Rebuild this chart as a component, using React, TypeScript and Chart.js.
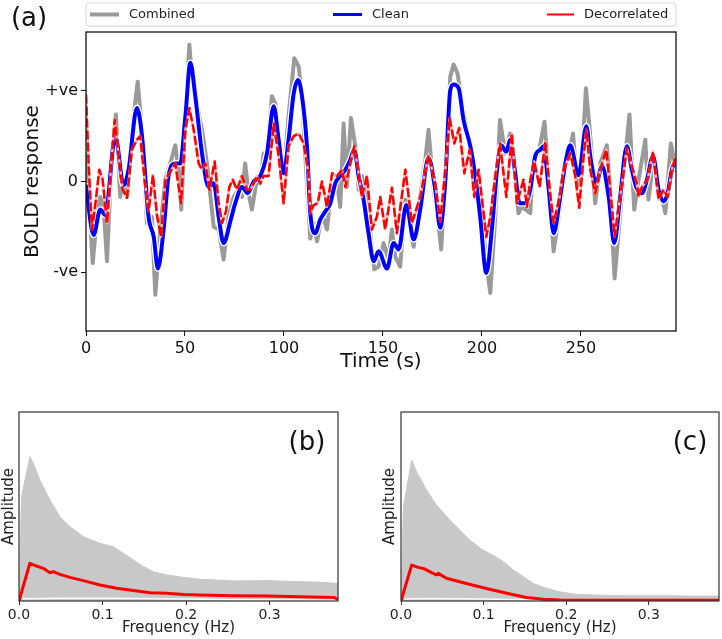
import React, { useEffect, useRef } from "react";
import { Chart, registerables } from "chart.js";

Chart.register(...registerables);

const FONT = "'DejaVu Sans', sans-serif";

// ---------- Panel (a): BOLD time series ----------
const combinedTime = [
  0, 3.4, 5.5, 7.2, 8.9, 10.6, 12.8, 15.1, 17.3, 19.0,
  20.7, 23.2, 26.1, 28.3, 30.8, 33.3, 35.0, 37.5, 40.1, 42.6,
  45.1, 46.8, 48.1, 50.2, 52.2, 53.9, 56.1, 58.6, 61.1, 64.5,
  67.0, 69.5, 72.0, 74.6, 77.1, 78.8, 80.4, 82.1, 83.8, 86.3,
  88.0, 89.7, 91.4, 93.9, 95.6, 98.1, 99.8, 102.3, 105.2, 107.4,
  109.1, 110.8, 113.3, 115.0, 116.7, 119.2, 121.7, 123.4, 126.8, 128.4,
  130.1, 131.8, 133.8, 136.0, 137.7, 139.3, 141.9, 143.6, 145.6, 147.8,
  150.3, 152.8, 154.5, 156.2, 158.7, 161.3, 162.9, 165.5, 168.8, 171.4,
  173.0, 175.6, 177.6, 179.4, 181.5, 184.0, 185.7, 187.7, 189.9, 192.4,
  195.0, 197.5, 200.0, 202.2, 204.2, 206.7, 209.1, 211.7, 214.2, 216.8,
  218.4, 220.1, 224.4, 226.1, 228.6, 231.6, 233.6, 236.2, 238.7, 242.1,
  246.0, 248.0, 250.0, 252.5, 254.7, 257.2, 259.7, 263.1, 264.8, 267.0,
  269.8, 272.0, 274.5, 276.9, 279.1, 282.5, 284.1, 286.4, 288.4, 290.9,
  292.6, 295.4, 298,
];
const combinedValue = [
  0.3, -0.90, -0.39, -0.17, -0.28, -0.88, 0.20, 0.74, -0.17, 0.06,
  -0.17, 0.57, 1.10, 0.57, -0.46, -0.39, -1.25, -0.53, 0.02, 0.20,
  0.40, 0.13, -0.31, 0.75, 1.51, 1.05, 0.83, 0.57, 0.20, -0.50,
  -0.53, -0.86, -0.39, -0.17, -0.09, -0.17, 0.20, -0.13, -0.31, 0.02,
  -0.02, 0.31, 0.28, 0.94, 0.86, 0.20, 0.09, 0.72, 1.36, 1.27,
  0.94, 0.28, -0.63, -0.46, -0.66, -0.35, -0.53, -0.17, -0.02, -0.28,
  0.64, -0.06, 0.70, 0.39, -0.09, 0.06, -0.24, -0.57, -0.97, -0.94,
  -0.68, -0.86, -0.53, -0.83, -0.94, -0.20, -0.42, -0.72, -0.17, 0.24,
  0.57, -0.09, -0.39, -0.75, 0.09, 1.16, 1.29, 1.19, 0.86, 0.57,
  0.28, -0.06, -0.39, -0.90, -1.23, -0.39, 0.68, 0.31, 0.53, 0.09,
  -0.35, -0.28, -0.35, 0.28, 0.31, 0.66, 0.02, -0.77, -0.39, 0.13,
  0.53, -0.06, 0.02, 1.03, 0.50, -0.24, 0.20, 0.40, -0.17, -1.07,
  -0.35, 0.20, 0.74, -0.31, 0.02, 0.46, -0.20, 0.20, -0.02, -0.17,
  -0.35, 0.42, 0.13,
];

const cleanTime = [
  0, 3.85, 7.2, 9.7, 14.8, 19.0, 21.5, 25.7, 28.3, 31.6,
  34.2, 36.3, 39.2, 41.7, 45.1, 47.6, 50.2, 52.7, 55.2, 58.6,
  61.9, 64.5, 67.0, 69.5, 72.9, 75.4, 78.8, 81.6, 84.7, 88.0,
  91.4, 94.8, 97.3, 99.8, 102.3, 104.9, 107.1, 109.1, 111.6, 113.3,
  115.8, 118.3, 120.9, 123.4, 125.9, 128.4, 131.0, 133.5, 135.5, 137.7,
  140.2, 142.7, 145.3, 147.8, 152.0, 155.4, 157.9, 161.8, 165.5, 168.8,
  173.0, 176.4, 178.9, 181.5, 184.0, 185.7, 188.2, 190.7, 194.1, 196.6,
  199.1, 202.2, 205.0, 207.6, 209.6, 212.3, 214.3, 216.8, 219.0, 221.9,
  224.4, 226.9, 229.4, 231.1, 233.6, 236.2, 239.5, 242.1, 244.6, 248.8,
  252.7, 254.7, 257.7, 260.6, 264.0, 266.8, 269.8, 273.2, 275.7, 277.9,
  280.8, 283.3, 286.4, 289.2, 291.7, 293.8, 295.9, 298,
];
const cleanValue = [
  -0.05, -0.59, -0.31, -0.37, 0.50, -0.04, 0.13, 0.81, 0.50, -0.39,
  -0.61, -0.96, -0.53, 0.06, 0.20, 0.20, 0.72, 1.31, 0.94, 0.31,
  -0.06, -0.02, -0.39, -0.68, -0.44, -0.24, -0.06, -0.13, 0.00, 0.06,
  0.31, 0.83, 0.46, 0.09, 0.46, 0.97, 1.12, 0.94, 0.39, -0.35,
  -0.57, -0.42, -0.33, -0.24, -0.02, 0.06, 0.13, 0.24, 0.35, 0.06,
  -0.20, -0.57, -0.88, -0.77, -0.96, -0.68, -0.75, -0.26, -0.64, -0.31,
  0.26, -0.09, -0.51, 0.02, 1.01, 1.07, 1.03, 0.68, 0.39, 0.06,
  -0.39, -1.01, -0.53, 0.13, 0.40, 0.33, 0.46, 0.09, -0.24, -0.24,
  -0.09, 0.28, 0.35, 0.39, -0.06, -0.57, -0.17, 0.20, 0.40, 0.07,
  0.61, 0.28, -0.02, 0.17, -0.17, -0.68, -0.17, 0.39, 0.13, -0.06,
  -0.13, 0.02, 0.28, -0.09, -0.22, -0.13, 0.13, 0.22,
];

const decorrTime = [
  0, 1.3, 3.0, 5.0, 6.7, 8.4, 10.6, 12.8, 14.5, 16.5,
  18.5, 20.7, 23.2, 25.7, 27.4, 29.6, 31.6, 33.8, 35.8, 37.9,
  40.1, 42.6, 45.1, 48.0, 50.2, 52.2, 54.4, 56.9, 58.6, 60.3,
  62.3, 65.0, 67.0, 68.7, 70.7, 72.4, 74.1, 76.2, 78.8, 81.3,
  83.0, 84.7, 86.3, 88.0, 89.7, 92.2, 94.8, 97.3, 99.8, 102.3,
  104.9, 107.4, 109.9, 112.4, 113.3, 115.0, 117.0, 119.2, 121.7, 124.3,
  126.8, 129.3, 131.0, 133.5, 135.5, 137.7, 139.3, 141.9, 144.4, 146.9,
  148.6, 151.1, 154.5, 157.0, 161.3, 164.6, 168.8, 173.0, 176.4, 178.9,
  181.5, 183.7, 186.0, 188.5, 191.1, 193.8, 196.1, 198.3, 202.2, 204.2,
  206.7, 209.1, 212.3, 215.1, 217.6, 221.0, 222.7, 224.4, 226.4, 229.1,
  232.0, 234.2, 236.2, 239.2, 241.2, 244.6, 247.1, 249.1, 251.0, 252.7,
  254.7, 257.2, 259.7, 262.8, 264.8, 267.0, 269.8, 273.2, 275.7, 278.2,
  279.1, 280.8, 283.6, 286.4, 289.2, 291.7, 293.8, 295.9, 297.6,
];
const decorrValue = [
  0.96, 0.20, -0.53, -0.20, 0.13, 0.02, -0.46, 0.20, 0.68, 0.28,
  -0.09, -0.18, 0.35, 0.46, 0.50, 0.02, -0.33, 0.07, -0.37, -0.61,
  0.02, 0.11, 0.20, -0.24, 0.57, 0.81, 0.57, 0.20, 0.13, 0.20,
  -0.09, 0.22, -0.24, -0.46, -0.33, -0.06, 0.02, -0.09, 0.06, -0.09,
  -0.09, -0.02, 0.06, -0.02, 0.06, 0.06, 0.64, 0.28, -0.24, 0.39,
  0.50, 0.53, 0.42, 0.09, -0.35, -0.26, -0.24, 0.00, -0.28, 0.09,
  0.06, 0.13, -0.06, 0.20, 0.39, 0.09, -0.17, 0.06, -0.53, -0.39,
  -0.17, -0.53, -0.07, -0.57, 0.13, -0.46, -0.17, 0.29, -0.02, -0.44,
  0.13, 0.70, 0.42, 0.59, 0.09, 0.35, -0.17, 0.13, -0.61, -0.39,
  0.06, 0.42, -0.17, 0.53, -0.24, 0.02, -0.28, 0.02, 0.22, -0.06,
  0.44, -0.09, -0.46, -0.17, 0.13, 0.31, 0.06, -0.29, 0.20, 0.57,
  0.13, -0.13, 0.13, 0.35, -0.09, -0.61, -0.17, 0.37, 0.17, -0.02,
  -0.17, -0.06, 0.02, 0.33, -0.20, -0.09, -0.17, 0.13, 0.26,
];

const timeTicks = [0, 50, 100, 150, 200, 250];
const boldTickValues = [-1, 0, 1];
const boldTickLabels = ["-ve", "0", "+ve"];

// ---------- Panels (b), (c): spectra ----------
const freqTicks = [0, 0.1, 0.2, 0.3];

const grayBFreq = [0, 0.003, 0.013, 0.017, 0.025, 0.037, 0.049, 0.061, 0.077, 0.097, 0.113, 0.125, 0.137, 0.149, 0.161, 0.177, 0.197, 0.217, 0.237, 0.257, 0.277, 0.297, 0.317, 0.337, 0.357, 0.382];
const grayBAmp = [0, 0.55, 0.764, 0.73, 0.64, 0.534, 0.446, 0.393, 0.34, 0.305, 0.287, 0.252, 0.217, 0.182, 0.155, 0.138, 0.125, 0.115, 0.111, 0.106, 0.107, 0.108, 0.105, 0.102, 0.1, 0.093];
const redBFreq = [0, 0.013, 0.021, 0.029, 0.037, 0.041, 0.049, 0.061, 0.077, 0.097, 0.117, 0.137, 0.157, 0.177, 0.197, 0.217, 0.257, 0.297, 0.337, 0.377, 0.382];
const redBAmp = [0, 0.199, 0.185, 0.173, 0.15, 0.155, 0.141, 0.125, 0.108, 0.085, 0.067, 0.055, 0.044, 0.041, 0.035, 0.032, 0.028, 0.026, 0.023, 0.019, 0.009];
const whiteBFreq = [0.004, 0.05, 0.1, 0.15, 0.2, 0.25, 0.382];
const whiteBAmp = [0.012, 0.014, 0.014, 0.013, 0.01, 0.006, 0.004];

const grayCFreq = [0, 0.003, 0.0129, 0.0189, 0.031, 0.043, 0.059, 0.071, 0.083, 0.099, 0.111, 0.124, 0.136, 0.148, 0.16, 0.176, 0.192, 0.212, 0.232, 0.272, 0.313, 0.353, 0.385];
const grayCAmp = [0, 0.5, 0.746, 0.684, 0.587, 0.508, 0.429, 0.376, 0.323, 0.27, 0.243, 0.208, 0.164, 0.129, 0.093, 0.067, 0.049, 0.035, 0.032, 0.028, 0.028, 0.026, 0.026];
const redCFreq = [0, 0.0129, 0.021, 0.029, 0.037, 0.043, 0.045, 0.055, 0.071, 0.091, 0.111, 0.132, 0.152, 0.172, 0.192, 0.232, 0.385];
const redCAmp = [0, 0.19, 0.178, 0.169, 0.15, 0.138, 0.146, 0.12, 0.102, 0.079, 0.058, 0.037, 0.019, 0.009, 0.005, 0.004, 0.004];
const whiteCFreq = [0.004, 0.03, 0.06, 0.1, 0.15, 0.2];
const whiteCAmp = [0.01, 0.013, 0.012, 0.01, 0.006, 0.003];

function pts(xs: number[], ys: number[]) {
  return xs.map((x, i) => ({ x, y: ys[i] }));
}

const framePlugin = {
  id: "frame",
  afterDatasetsDraw(chart: any, _a: any, opts: any) {
    const { ctx, chartArea: a } = chart;
    ctx.save();
    ctx.strokeStyle = opts.color || "#000";
    ctx.lineWidth = opts.width || 1.2;
    ctx.strokeRect(a.left, a.top, a.right - a.left, a.bottom - a.top);
    ctx.restore();
  },
};

const panelLabelPlugin = {
  id: "panelLabel",
  afterDraw(chart: any, _a: any, opts: any) {
    if (!opts || !opts.text) return;
    const { ctx } = chart;
    ctx.save();
    ctx.font = `${opts.size}px ${FONT}`;
    ctx.fillStyle = "#111";
    ctx.textAlign = "center";
    ctx.textBaseline = "middle";
    ctx.fillText(opts.text, opts.x, opts.y);
    ctx.restore();
  },
};

const seriesLegendPlugin = {
  id: "seriesLegend",
  afterDraw(chart: any, _a: any, opts: any) {
    if (!opts || !opts.items) return;
    const { ctx, chartArea: a } = chart;
    ctx.save();
    const y0 = opts.top;
    const y1 = opts.bottom;
    ctx.beginPath();
    ctx.roundRect(a.left, y0, a.right - a.left, y1 - y0, 3);
    ctx.fillStyle = "rgba(255,255,255,0.9)";
    ctx.fill();
    ctx.strokeStyle = "#d6d6d6";
    ctx.lineWidth = 1;
    ctx.stroke();
    const cy = (y0 + y1) / 2;
    ctx.font = `13px ${FONT}`;
    ctx.textBaseline = "middle";
    ctx.textAlign = "left";
    for (const it of opts.items) {
      ctx.beginPath();
      ctx.moveTo(it.lx0, cy);
      ctx.lineTo(it.lx1, cy);
      ctx.strokeStyle = it.color;
      ctx.lineWidth = it.width;
      ctx.stroke();
      ctx.fillStyle = "#222";
      ctx.fillText(it.label, it.tx, cy + 0.5);
    }
    ctx.restore();
  },
};

function topConfig(): any {
  const line = { pointRadius: 0, fill: false, borderJoinStyle: "round", borderCapStyle: "round" };
  return {
    type: "line",
    data: {
      datasets: [
        { ...line, label: "Combined", data: pts(combinedTime, combinedValue), borderColor: "#9a9a9a", borderWidth: 4, order: 5 },
        { ...line, label: "clean-outline", data: pts(cleanTime, cleanValue), borderColor: "#ffffff", borderWidth: 6.5, cubicInterpolationMode: "monotone", order: 4 },
        { ...line, label: "Clean", data: pts(cleanTime, cleanValue), borderColor: "#0000ff", borderWidth: 4, cubicInterpolationMode: "monotone", order: 3 },
        { ...line, label: "decorr-under", data: pts(decorrTime, decorrValue), borderColor: "rgb(255,175,175)", borderWidth: 2.5, order: 2 },
        { ...line, label: "Decorrelated", data: pts(decorrTime, decorrValue), borderColor: "#ff0000", borderWidth: 2.5, borderDash: [9, 3], borderCapStyle: "butt", order: 1 },
      ],
    },
    options: {
      animation: false,
      responsive: false,
      maintainAspectRatio: false,
      layout: { padding: { left: 0, top: 32, right: 46, bottom: 0 } },
      plugins: {
        legend: { display: false },
        tooltip: { enabled: false },
        frame: { color: "#111", width: 1.3 },
        panelLabel: { text: "(a)", x: 29, y: 19, size: 26 },
        seriesLegend: {
          top: 3,
          bottom: 26,
          items: [
            { label: "Combined", color: "#9a9a9a", width: 4, lx0: 90, lx1: 119, tx: 129 },
            { label: "Clean", color: "#0000ff", width: 3, lx0: 333, lx1: 362, tx: 372 },
            { label: "Decorrelated", color: "#ff0000", width: 2, lx0: 547, lx1: 574, tx: 584 },
          ],
        },
      },
      scales: {
        x: {
          type: "linear",
          min: 0,
          max: 298,
          afterBuildTicks: (s: any) => { s.ticks = timeTicks.map((v) => ({ value: v })); },
          afterFit: (s: any) => { s.height = 49; },
          ticks: { font: { family: FONT, size: 16 }, color: "#111", padding: 3, maxRotation: 0, autoSkip: false },
          grid: { drawOnChartArea: false, drawTicks: true, tickLength: 5, color: "#111" },
          border: { display: false },
          title: { display: true, text: "Time (s)", font: { family: FONT, size: 20 }, color: "#111", padding: { top: 0, bottom: 6 } },
        },
        y: {
          type: "linear",
          min: -1.65,
          max: 1.65,
          afterBuildTicks: (s: any) => { s.ticks = boldTickValues.map((v) => ({ value: v })); },
          afterFit: (s: any) => { s.width = 86; },
          ticks: {
            font: { family: FONT, size: 16 },
            color: "#111",
            padding: 3,
            autoSkip: false,
            callback: (v: number) => boldTickLabels[boldTickValues.indexOf(v)] ?? "",
          },
          grid: { drawOnChartArea: false, drawTicks: true, tickLength: 5, color: "#111" },
          border: { display: false },
          title: { display: true, text: "BOLD response", font: { family: FONT, size: 20 }, color: "#111", padding: { top: 21, bottom: 0 } },
        },
      },
    },
    plugins: [framePlugin, panelLabelPlugin, seriesLegendPlugin],
  };
}

function spectrumConfig(p: {
  grayF: number[]; grayV: number[]; redF: number[]; redV: number[]; whiteF: number[]; whiteV: number[];
  xMax: number; yWidth: number; yTitlePad: number; padRight: number; label: string; labelX: number;
}): any {
  return {
    type: "line",
    data: {
      datasets: [
        { label: "range", data: pts(p.grayF, p.grayV), borderColor: "rgb(200,200,200)", backgroundColor: "rgb(200,200,200)", borderWidth: 1, fill: "origin", pointRadius: 0, order: 3 },
        { label: "low", data: pts(p.whiteF, p.whiteV), borderColor: "rgba(255,255,255,0.9)", borderWidth: 1.5, fill: false, pointRadius: 0, order: 2 },
        { label: "mean", data: pts(p.redF, p.redV), borderColor: "#ff0000", borderWidth: 3, fill: false, pointRadius: 0, borderJoinStyle: "round", order: 1 },
      ],
    },
    options: {
      animation: false,
      responsive: false,
      maintainAspectRatio: false,
      layout: { padding: { left: 0, top: 32, right: p.padRight, bottom: 0 } },
      plugins: {
        legend: { display: false },
        tooltip: { enabled: false },
        frame: { color: "#333", width: 1.2 },
        panelLabel: { text: p.label, x: p.labelX, y: 63, size: 26 },
      },
      scales: {
        x: {
          type: "linear",
          min: 0,
          max: p.xMax,
          afterBuildTicks: (s: any) => { s.ticks = freqTicks.map((v) => ({ value: v })); },
          afterFit: (s: any) => { s.height = 38; },
          ticks: { font: { family: FONT, size: 14 }, color: "#222", padding: 2, maxRotation: 0, autoSkip: false, callback: (v: number) => v.toFixed(1) },
          grid: { drawOnChartArea: false, drawTicks: true, tickLength: 4, color: "#333" },
          border: { display: false },
          title: { display: true, text: "Frequency (Hz)", font: { family: FONT, size: 15 }, color: "#222", padding: { top: 0, bottom: 2 } },
        },
        y: {
          type: "linear",
          min: 0,
          max: 1,
          afterFit: (s: any) => { s.width = p.yWidth; },
          ticks: { display: false },
          grid: { display: false },
          border: { display: false },
          title: { display: true, text: "Amplitude", font: { family: FONT, size: 15 }, color: "#222", padding: { top: p.yTitlePad, bottom: 0 } },
        },
      },
    },
    plugins: [framePlugin, panelLabelPlugin],
  };
}

export default function App() {
  const topRef = useRef<HTMLCanvasElement>(null);
  const bRef = useRef<HTMLCanvasElement>(null);
  const cRef = useRef<HTMLCanvasElement>(null);

  useEffect(() => {
    const charts: Chart[] = [];
    charts.push(new Chart(topRef.current!, topConfig()));
    charts.push(
      new Chart(
        bRef.current!,
        spectrumConfig({
          grayF: grayBFreq, grayV: grayBAmp, redF: redBFreq, redV: redBAmp, whiteF: whiteBFreq, whiteV: whiteBAmp,
          xMax: 0.382, yWidth: 19, yTitlePad: 0, padRight: 23, label: "(b)", labelX: 307,
        })
      )
    );
    charts.push(
      new Chart(
        cRef.current!,
        spectrumConfig({
          grayF: grayCFreq, grayV: grayCAmp, redF: redCFreq, redV: redCAmp, whiteF: whiteCFreq, whiteV: whiteCAmp,
          xMax: 0.385, yWidth: 40, yTitlePad: 20, padRight: 3, label: "(c)", labelX: 329,
        })
      )
    );
    return () => charts.forEach((c) => c.destroy());
  }, []);

  return (
    <div style={{ position: "absolute", left: 0, top: 0, width: 722, height: 639, background: "#fff" }}>
      <canvas ref={topRef} width={722} height={380} style={{ position: "absolute", left: 0, top: 0 }} />
      <canvas ref={bRef} width={361} height={259} style={{ position: "absolute", left: 0, top: 380 }} />
      <canvas ref={cRef} width={361} height={259} style={{ position: "absolute", left: 361, top: 380 }} />
    </div>
  );
}
